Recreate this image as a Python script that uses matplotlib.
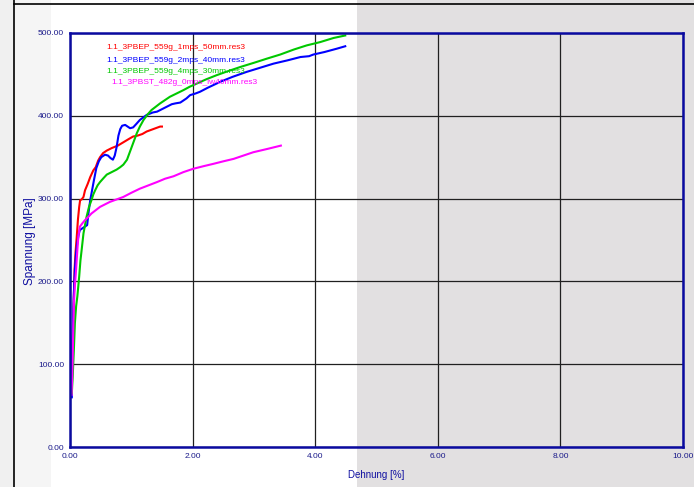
import matplotlib
matplotlib.use("Agg")
import matplotlib.pyplot as plt
from matplotlib.patches import Rectangle
from matplotlib.lines import Line2D

plt.rcParams['font.family'] = ['Liberation Sans', 'DejaVu Sans']

# ---- data ----
red_x = [0.03, 0.045, 0.06, 0.075, 0.09, 0.11, 0.13, 0.15, 0.165, 0.19, 0.22, 0.245, 0.29, 0.33, 0.38, 0.42,
         0.46, 0.49, 0.54, 0.60, 0.68, 0.78, 0.87, 0.96, 1.03, 1.10, 1.18, 1.25, 1.36, 1.47, 1.50]
red_y = [70, 130, 175, 215, 235, 254, 275, 290, 298, 299, 302, 310, 318, 326, 334, 338,
         346, 350, 355, 358, 361, 364, 368, 372, 375, 376, 378, 381, 384, 387, 387]

blue_x = [0.03, 0.04, 0.06, 0.08, 0.10, 0.12, 0.14, 0.16, 0.20, 0.24, 0.28, 0.30, 0.33, 0.36, 0.39, 0.43,
          0.47, 0.51, 0.57, 0.62, 0.66, 0.70, 0.73, 0.76, 0.79, 0.82, 0.85, 0.90, 0.94, 0.98, 1.03, 1.08,
          1.14, 1.25, 1.35, 1.42, 1.50, 1.58, 1.66, 1.72, 1.80, 1.90, 1.96, 2.05, 2.12, 2.25, 2.45, 2.65,
          2.88, 3.10, 3.32, 3.55, 3.76, 3.90, 3.97, 4.15, 4.35, 4.49]
blue_y = [60, 129, 180, 215, 235, 247, 256, 262, 264, 266, 268, 282, 298, 310, 322, 337,
          345, 350, 353, 352, 349, 347, 352, 362, 376, 384, 388, 389, 387, 385, 386, 390,
          395, 401, 404, 405, 408, 411, 414, 415, 416, 421, 425, 427, 429, 434, 441, 447,
          453, 458, 463, 467, 471, 472, 474, 477, 481, 484]

green_x = [0.03, 0.05, 0.065, 0.08, 0.10, 0.12, 0.15, 0.17, 0.19, 0.22, 0.25, 0.27, 0.31, 0.35, 0.38, 0.41,
           0.45, 0.49, 0.55, 0.60, 0.68, 0.76, 0.82, 0.87, 0.93, 0.97, 1.01, 1.05, 1.09, 1.14, 1.20, 1.27,
           1.33, 1.40, 1.47, 1.55, 1.63, 1.74, 1.85, 1.95, 2.07, 2.22, 2.39, 2.58, 2.78, 3.00, 3.21, 3.43,
           3.65, 3.86, 4.08, 4.30, 4.49]
green_y = [65, 95, 121, 150, 170, 182, 206, 225, 238, 258, 270, 278, 290, 298, 305, 310,
           316, 320, 325, 329, 332, 335, 338, 341, 347, 355, 363, 371, 379, 387, 395, 402,
           407, 411, 415, 419, 423, 427, 431, 435, 439, 444, 449, 454, 459, 464, 469, 474,
           480, 485, 489, 494, 497]

mag_x = [0.025, 0.035, 0.045, 0.055, 0.065, 0.08, 0.10, 0.12, 0.136, 0.16, 0.20, 0.245, 0.30, 0.35, 0.42,
         0.49, 0.57, 0.65, 0.76, 0.87, 1.00, 1.14, 1.28, 1.42, 1.55, 1.69, 1.85, 2.01, 2.17, 2.34, 2.50,
         2.67, 2.83, 2.99, 3.22, 3.44]
mag_y = [63, 85, 110, 150, 175, 195, 215, 238, 254, 266, 270, 274, 278, 282, 286,
         290, 293, 296, 299, 302, 307, 312, 316, 320, 324, 327, 332, 336, 339, 342, 345,
         348, 352, 356, 360, 364]

series_names = ["1.1_3PBEP_559g_1mps_50mm.res3",
                "1.1_3PBEP_559g_2mps_40mm.res3",
                "1.1_3PBEP_559g_4mps_30mm.res3",
                "1.1_3PBST_482g_0mps_lw40mm.res3"]
series_colors = ["#ff0000", "#0000ff", "#00c800", "#ff00ff"]

x_ticks = [0, 2, 4, 6, 8, 10]
y_ticks = [0, 100, 200, 300, 400, 500]

W, H = 694, 487
fig = plt.figure(figsize=(W / 100, H / 100), dpi=100)
fig.patch.set_facecolor("white")

def px_rect(x0, y0, x1, y1, color):
    fig.patches.append(Rectangle((x0 / W, 1 - y1 / H), (x1 - x0) / W, (y1 - y0) / H,
                                 transform=fig.transFigure, facecolor=color, edgecolor="none", zorder=-10))

px_rect(0, 0, 14, H, "#f0f0f0")
px_rect(14, 0, 51, H, "#f5f5f5")
px_rect(357, 0, W, H, "#e2e0e1")
fig.lines.append(Line2D([13.5 / W, 13.5 / W], [0, 1], transform=fig.transFigure, color="black", lw=1.2))
fig.lines.append(Line2D([13.5 / W, 1], [1 - 3.5 / H, 1 - 3.5 / H], transform=fig.transFigure, color="black", lw=1.2))

ax = fig.add_axes([70 / W, (H - 447) / H, (683 - 70) / W, (447 - 33) / H])
ax.set_facecolor("none")
ax.set_xlim(0, 10)
ax.set_ylim(0, 500)

for xs, ys, c in [(red_x, red_y, series_colors[0]), (blue_x, blue_y, series_colors[1]),
                  (green_x, green_y, series_colors[2]), (mag_x, mag_y, series_colors[3])]:
    ax.plot(xs, ys, color=c, lw=1.5, zorder=3)

ax.set_xticks(x_ticks)
ax.set_yticks(y_ticks)
ax.set_xticklabels([f"{v:.2f}" for v in x_ticks])
ax.set_yticklabels([f"{v:.2f}" for v in y_ticks])
ax.tick_params(length=0, labelsize=6, labelcolor="#1a1a8a")
ax.tick_params(axis="y", pad=4.3)
ax.tick_params(axis="x", pad=4.6)
ax.grid(True, color="#202020", lw=0.9, zorder=1)
for s in ax.spines.values():
    s.set_color("#0a0aa0")
    s.set_linewidth(1.8)
    s.set_zorder(4)

ax.set_xlabel("Dehnung [%]", fontsize=7, color="#1010a0")
ax.set_ylabel("Spannung [MPa]", fontsize=8.5, color="#1010a0")
ax.yaxis.set_label_coords((30 - 70) / (683 - 70), (447 - 241) / (447 - 33))
ax.xaxis.set_label_coords(0.5, -(475 - 447) / (447 - 33))
ax.xaxis.label.set_va("center")
ax.yaxis.label.set_va("center")

leg_pos = [(0.60, 483), (0.60, 467), (0.60, 453), (0.67, 440)]
for (lx, ly), name, c in zip(leg_pos, series_names, series_colors):
    ax.text(lx, ly, name, color=c, fontsize=6, va="center", ha="left", zorder=5)

fig.savefig("out.png", dpi=100)
